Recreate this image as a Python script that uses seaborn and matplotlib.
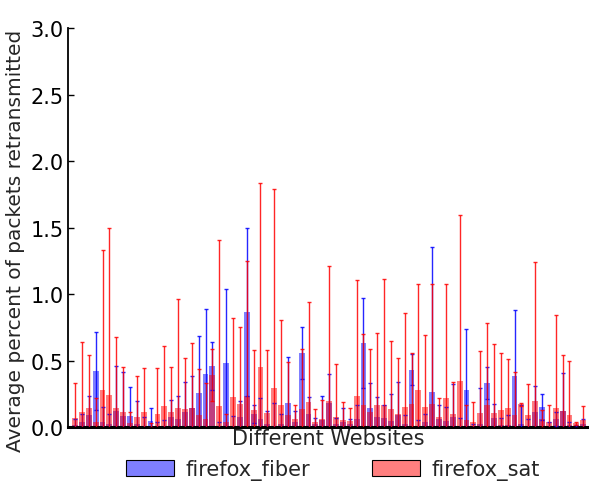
import numpy as np
import matplotlib
matplotlib.use("Agg")
import matplotlib.pyplot as plt
from matplotlib.patches import Patch
import seaborn as sns

# Per-website retransmission averages (percent) with their spread
fiber_mean = [0.015, 0.037, 0.09, 0.421, 0.04, 0.02, 0.12, 0.085, 0.083, 0.02,
              0.01, 0.043, 0.005, 0.005, 0.075, 0.06, 0.11, 0.143, 0.256, 0.40,
              0.459, 0.005, 0.481, 0.01, 0.075, 0.865, 0.098, 0.06, 0.02, 0.01,
              0.02, 0.18, 0.04, 0.556, 0.098, 0.02, 0.052, 0.18, 0.02, 0.035,
              0.02, 0.058, 0.632, 0.143, 0.075, 0.068, 0.045, 0.093, 0.02, 0.43,
              0.01, 0.035, 0.266, 0.058, 0.045, 0.075, 0.01, 0.278, 0.005, 0.02,
              0.33, 0.068, 0.015, 0.015, 0.383, 0.025, 0.01, 0.11, 0.15, 0.01,
              0.06, 0.123, 0.015, 0.005, 0.02]
fiber_err = [0.045, 0.06, 0.14, 0.29, 0.11, 0.08, 0.336, 0.325, 0.215, 0.175,
             0.063, 0.10, 0.03, 0.05, 0.125, 0.17, 0.23, 0.24, 0.425, 0.49,
             0.18, 0.03, 0.56, 0.07, 0.12, 0.634, 0.07, 0.16, 0.10, 0.17,
             0.08, 0.344, 0.08, 0.194, 0.125, 0.05, 0.18, 0.22, 0.05, 0.105,
             0.04, 0.11, 0.335, 0.19, 0.15, 0.10, 0.2, 0.245, 0.07, 0.116,
             0.04, 0.065, 1.09, 0.105, 0.105, 0.25, 0.06, 0.456, 0.02, 0.27,
             0.12, 0.107, 0.055, 0.075, 0.497, 0.14, 0.05, 0.2, 0.095, 0.03,
             0.05, 0.283, 0.025, 0.01, 0.04]
sat_mean = [0.068, 0.113, 0.143, 0.04, 0.278, 0.24, 0.14, 0.113, 0.03, 0.075,
            0.113, 0.01, 0.098, 0.158, 0.11, 0.143, 0.135, 0.145, 0.09, 0.06,
            0.39, 0.155, 0.04, 0.223, 0.173, 0.23, 0.13, 0.453, 0.108, 0.293,
            0.168, 0.09, 0.06, 0.135, 0.188, 0.038, 0.06, 0.198, 0.075, 0.052,
            0.045, 0.233, 0.168, 0.113, 0.165, 0.165, 0.135, 0.098, 0.15, 0.17,
            0.278, 0.15, 0.173, 0.075, 0.218, 0.098, 0.346, 0.052, 0.035, 0.105,
            0.163, 0.105, 0.128, 0.143, 0.09, 0.17, 0.09, 0.198, 0.06, 0.035,
            0.143, 0.118, 0.09, 0.028, 0.052]
sat_err = [0.265, 0.53, 0.40, 0.18, 1.055, 1.256, 0.54, 0.34, 0.085, 0.306,
           0.33, 0.02, 0.346, 0.45, 0.34, 0.82, 0.385, 0.49, 0.35, 0.27,
           0.195, 1.25, 0.06, 0.595, 0.577, 1.02, 0.446, 1.38, 0.468, 1.50,
           0.64, 0.40, 0.108, 0.455, 0.754, 0.095, 0.14, 1.01, 0.40, 0.133,
           0.098, 0.87, 0.53, 0.47, 0.54, 0.95, 0.51, 0.42, 0.705, 0.39,
           0.80, 0.544, 0.905, 0.14, 0.86, 0.24, 1.25, 0.11, 0.15, 0.47,
           0.62, 0.52, 0.43, 0.37, 0.32, 0.01, 0.23, 1.04, 0.068, 0.13,
           0.70, 0.42, 0.41, 0.01, 0.105]
sites = [f"site{i:02d}" for i in range(len(fiber_mean))]
series_names = ["firefox_fiber", "firefox_sat"]

sns.set_style("ticks")
plt.rcParams["font.family"] = ["DejaVu Sans"]

fig = plt.figure(figsize=(5.89, 4.85), dpi=100)
ax = fig.add_axes([0.1155, 0.1175, 0.8825, 0.8225])

pos = np.arange(len(sites))
bar_w = 0.85

# fiber bars + whiskers underneath
sns.barplot(x=sites, y=fiber_mean, order=sites, color=(0, 0, 1), saturation=1,
            alpha=0.5, width=bar_w, linewidth=0, errorbar=None, ax=ax)
ax.errorbar(pos, fiber_mean, yerr=fiber_err, fmt="none", ecolor=(0, 0, 1),
            elinewidth=1.0, capsize=1.3, capthick=1.0, alpha=0.85, zorder=3)

# satellite bars + whiskers on top
sns.barplot(x=sites, y=sat_mean, order=sites, color=(1, 0, 0), saturation=1,
            alpha=0.5, width=bar_w, linewidth=0, errorbar=None, ax=ax)
ax.errorbar(pos, sat_mean, yerr=sat_err, fmt="none", ecolor=(1, 0, 0),
            elinewidth=1.0, capsize=1.3, capthick=1.0, alpha=0.85, zorder=4)

for p in ax.patches:
    p.set_zorder(2)

ax.set_xlim(-1.02, 74.67)
ax.set_ylim(0, 3.0)
ax.set_yticks(np.arange(0, 3.01, 0.5))
ax.set_xticks([])
ax.tick_params(axis="y", direction="in", length=4, width=1, pad=3,
               labelsize=15, colors="black")
ax.set_xlabel("Different Websites", fontsize=15, labelpad=1)
ax.set_ylabel("Average percent of packets retransmitted", fontsize=14.5)
ax.yaxis.set_label_coords(-0.083, 0.47)

sns.despine(ax=ax, top=True, right=True)
ax.spines["left"].set_linewidth(1.3)
ax.spines["left"].set_color("black")
ax.spines["bottom"].set_linewidth(2.2)
ax.spines["bottom"].set_color("black")

handles = [Patch(facecolor=(0, 0, 1, 0.5), edgecolor="black", linewidth=0.8),
           Patch(facecolor=(1, 0, 0, 0.5), edgecolor="black", linewidth=0.8)]
fig.legend(handles, series_names, loc="center", bbox_to_anchor=(0.565, 0.03),
           ncol=2, frameon=False, fontsize=15, handlelength=2.3,
           handleheight=0.8, handletextpad=0.55, columnspacing=3.0)

fig.savefig("out.png", dpi=100)
